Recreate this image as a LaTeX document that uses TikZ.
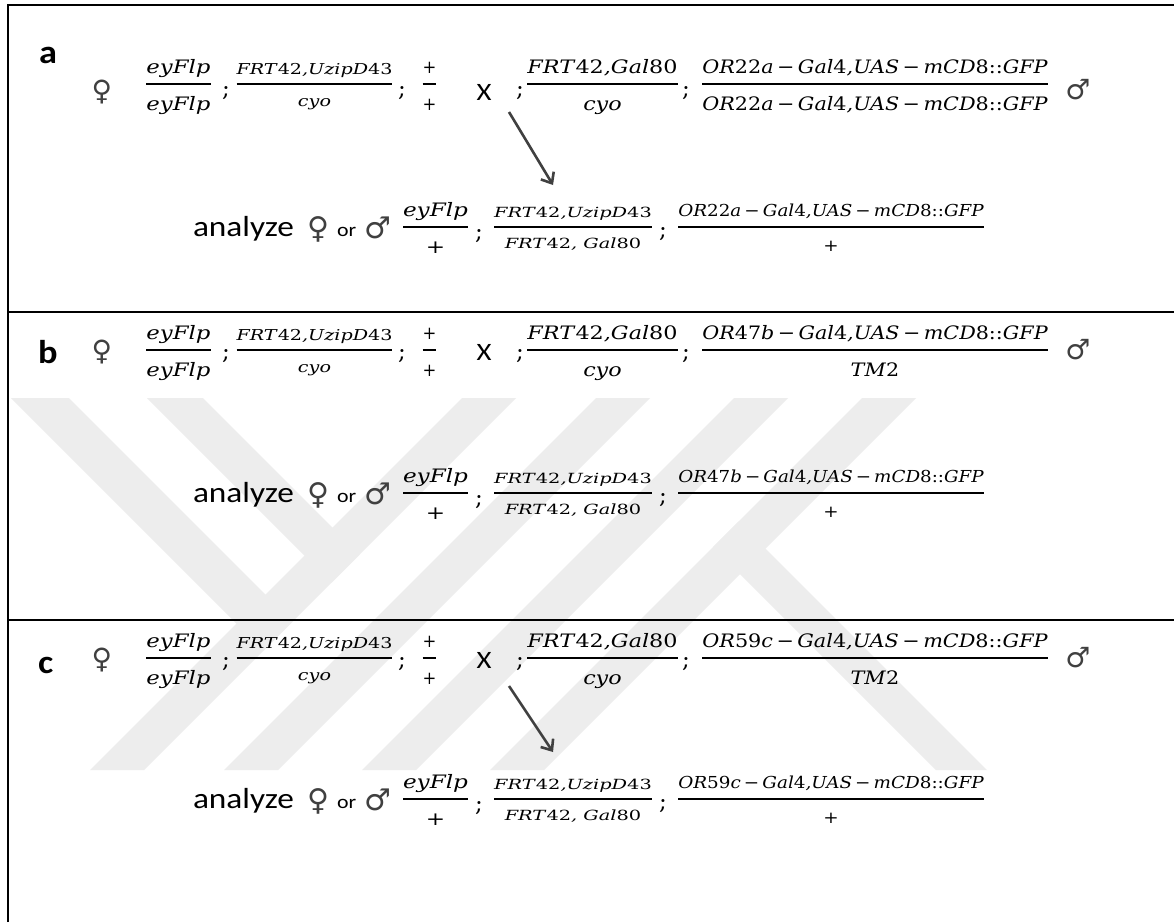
\RequirePackage{fix-cm}
\documentclass[tikz,border=0pt]{standalone}
\usepackage{amsmath}
\usepackage{graphicx}
\usepackage{fontspec}
\setsansfont{Carlito}
\newfontfamily\symfont{DejaVu Sans}
\newfontfamily\gfont{DejaVu Serif}
\usetikzlibrary{arrows.meta}

\newcommand{\gi}[1]{\text{\gfont\itshape #1}}
\newcommand{\gfr}[4]{\resizebox{#1pt}{\height}{\fontsize{#2}{#2}\selectfont$\genfrac{}{}{1.3pt}{0}{\gi{#3}\rule[-0.33em]{0pt}{0.33em}}{\rule{0pt}{1.2em}\gi{#4}}$}}
\newcommand{\ORg}[2]{OR\textup{#1}#2\,\textup{−}\,Gal\textup{4},UAS\,\textup{−}\,mCD\textup{8::}GFP}

\tikzset{
  every node/.style={inner sep=0pt, outer sep=0pt},
  frac/.style={anchor=base},
  semi/.style={anchor=base, font=\gfont\fontsize{23}{23}\selectfont},
  sym/.style={anchor=center, text=black!75, font=\symfont\fontsize{28}{28}\selectfont},
  symb/.style={anchor=center, text=black!75, font=\symfont\fontsize{30}{30}\selectfont},
  lab/.style={anchor=base west, font=\sffamily\bfseries\fontsize{33}{33}\selectfont},
  crossx/.style={anchor=center, font=\sffamily\fontsize{25}{25}\selectfont},
  anal/.style={anchor=base west, font=\sffamily\fontsize{29}{29}\selectfont},
  orlab/.style={anchor=base west, font=\sffamily\fontsize{19}{19}\selectfont},
  frameline/.style={line width=2pt, black},
  wm/.style={fill=black!7, draw=none},
  arr/.style={draw=black!75, line width=2.6pt, -{Straight Barb[length=9pt,width=15pt]}},
}

% #1 prefix, #2 bar y, #3 X centre y, #4 semicolon baseline, #5 num, #6 den
\newcommand{\crossrow}[6]{%
  \node[sym] (#1fem) at (102,#3) {♀};
  \node[frac] (#1f1) at (178.5,{#2+4.6}) {\gfr{67}{18.5}{eyFlp}{eyFlp}};
  \node[semi] (#1s1) at (226,#4) {;};
  \node[frac] (#1f2) at (314.5,{#2+3.75}) {\gfr{159}{15}{FRT\textup{42},UzipD\textup{43}}{cyo}};
  \node[semi] (#1s2) at (402,#4) {;};
  \node[frac] (#1f3) at (429.5,{#2+4.5}) {\gfr{16}{18}{\textup{+}}{\textup{+}}};
  \node[crossx] (#1x) at (484,#3) {\scalebox{1.15}[1]{X}};
  \node[semi] (#1s3) at (520,#4) {;};
  \node[frac] (#1f4) at (602.5,{#2+4.6}) {\gfr{153}{18.5}{FRT\textup{42},Gal\textup{80}}{cyo}};
  \node[semi] (#1s4) at (686,#4) {;};
  \node[frac] (#1f5) at (875,{#2+4.6}) {\gfr{348}{18.5}{#5}{#6}};
  \node[sym] (#1male) at (1078,{#3-2}) {♂};
}

% #1 prefix, #2 bar y, #3 numerator of last fraction
\newcommand{\anrow}[3]{%
  \node[anal] (#1an) at (193,{#2+9}) {\scalebox{1.15}[1]{analyze}};
  \node[symb] (#1fem) at (318.5,{#2+2}) {♀};
  \node[orlab] (#1or) at (337,{#2+9}) {\scalebox{1.15}[1]{or}};
  \node[symb] (#1male) at (377.5,{#2+1}) {♂};
  \node[frac] (#1g1) at (435.5,{#2+4.6}) {\gfr{68}{18.5}{eyFlp}{\textup{+}}};
  \node[semi] (#1t1) at (479,{#2+12}) {;};
  \node[frac] (#1g2) at (573,{#2+3.5}) {\gfr{161}{14}{FRT\textup{42},UzipD\textup{43}}{FRT\textup{42}, Gal\textup{80}}};
  \node[semi] (#1t2) at (663,{#2+10}) {;};
  \node[frac] (#1g3) at (831,{#2+4.1}) {\gfr{308}{16.5}{#3}{\textup{+}}};
}

\begin{document}
\begin{tikzpicture}[x=1pt,y=-1pt]
\useasboundingbox (0,0) rectangle (1174,922);
\fill[white] (0,0) rectangle (1174,922);

% watermark
\begin{scope}
  \clip (0,398) rectangle (1174,770);
  \foreach \xb in {90,224,362,490}
    \fill[wm] (\xb,770) -- ++(54,0) -- ++(372,-372) -- ++(-54,0) -- cycle;
  \fill[wm] (11,398) -- (69,398) -- (292.5,621.5) -- (263.5,650.5) -- cycle;
  \fill[wm] (147,398) -- (203,398) -- (359.5,554.5) -- (331.5,582.5) -- cycle;
  \fill[wm] (713,547) -- (738.5,521.5) -- (987,770) -- (936,770) -- cycle;
\end{scope}

% frame
\draw[frameline] (8,922) -- (8,4.5) -- (1174,4.5);
\draw[frameline] (8,312) -- (1174,312);
\draw[frameline] (8,620) -- (1174,620);

% panel labels
\node[lab] (la) at (39,63) {\scalebox{1.1}[1]{a}};
\node[lab] (lb) at (38,363) {\scalebox{1.1}[1]{b}};
\node[lab] (lc) at (38,673) {\scalebox{1.1}[1]{c}};

% panel a
\crossrow{xa}{84}{92}{96}{\ORg{22}{a}}{\ORg{22}{a}}
\anrow{ya}{227}{\ORg{22}{a}}
\coordinate (arA0) at (509,112);
\coordinate (arA1) at (553,185);
\draw[arr] (arA0) -- (arA1);

% panel b
\crossrow{xb}{350}{352}{359}{\ORg{47}{b}}{TM\textup{2}}
\anrow{yb}{493}{\ORg{47}{b}}

% panel c
\crossrow{xc}{658}{660}{667}{\ORg{59}{c}}{TM\textup{2}}
\anrow{yc}{799}{\ORg{59}{c}}
\coordinate (arC0) at (509,686);
\coordinate (arC1) at (553,752);
\draw[arr] (arC0) -- (arC1);
\end{tikzpicture}
\end{document}
